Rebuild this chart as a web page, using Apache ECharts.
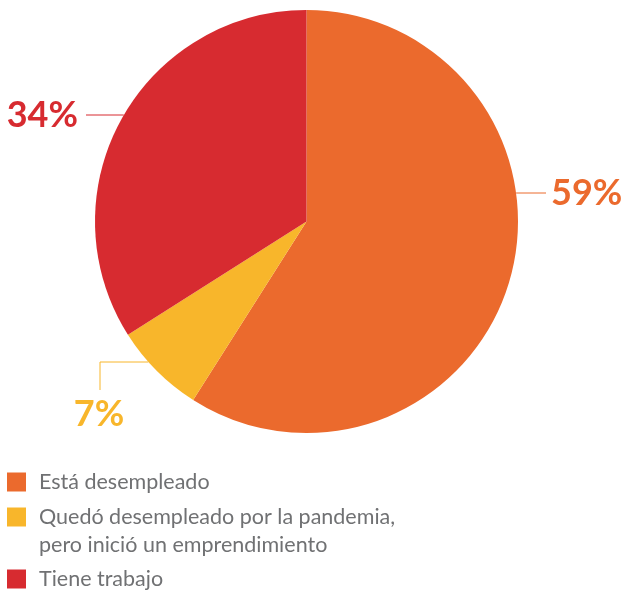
<!DOCTYPE html>
<html>
<head>
<meta charset="utf-8">
<script src="https://cdn.jsdelivr.net/npm/echarts@6/dist/echarts.min.js"></script>
<style>
    html, body { margin: 0; padding: 0; background: #fff; }
    #chart { width: 625px; height: 592px; }
</style>
</head>
<body>
<div id="chart"></div>
<script>
//数据
var categories = ['Está desempleado', 'Quedó desempleado por la pandemia, pero inició un emprendimiento', 'Tiene trabajo'];
var values = [59, 7, 34];
var colors = ['#EB6A2D', '#F8B62B', '#D72B30'];
//图例文字（第二项分两行）
var legendLines = [['Está desempleado'], ['Quedó desempleado por la pandemia,', 'pero inició un emprendimiento'], ['Tiene trabajo']];

//饼图几何
var cx = 306.5, cy = 221.5, r = 211.5;

//圆周上指定y的点
function edgeAtY(y, side) {
    var dy = y - cy;
    var dx = Math.sqrt(r * r - dy * dy);
    return [cx + side * dx, y];
}

//标签位置（引导线形状）
function getLabelLayout(params) {
    var i = params.dataIndex;
    if (i == 0) {
        var p = edgeAtY(193, 1);
        return {
            x: 551, y: 193, align: 'left', verticalAlign: 'middle',
            labelLinePoints: [p, [546, 193], [546, 193]]
        };
    }
    else if (i == 1) {
        var p = edgeAtY(362, -1);
        return {
            x: 99, y: 414, align: 'center', verticalAlign: 'middle',
            labelLinePoints: [p, [100, 362], [100, 390]]
        };
    }
    else {
        var p = edgeAtY(115, -1);
        return {
            x: 78, y: 115, align: 'right', verticalAlign: 'middle',
            labelLinePoints: [p, [86, 115], [86, 115]]
        };
    }
}

var pieData = [];
for (var i = 0; i < categories.length; i++) {
    pieData.push({
        name: categories[i],
        value: values[i],
        itemStyle: { color: colors[i] },
        label: { color: colors[i] },
        labelLine: { lineStyle: { color: colors[i] } }
    });
}

var legendText = {
    fontFamily: 'Lato',
    fontSize: 21.5,
    color: '#707173',
    lineHeight: 19,
    padding: [0, 0, 0, 8]
};

function legendFormatter(name) {
    return legendLines[categories.indexOf(name)][0];
}

var myChart = echarts.init(document.getElementById('chart'), null, { renderer: 'canvas' });

var option = {
    animation: false,
    backgroundColor: '#ffffff',
    legend: [
        {
            data: [categories[0], categories[1]],
            orient: 'vertical',
            left: 7,
            top: 471,
            padding: 0,
            itemGap: 13,
            itemWidth: 19,
            itemHeight: 19,
            icon: 'rect',
            selectedMode: false,
            formatter: legendFormatter,
            textStyle: legendText
        },
        {
            data: [categories[2]],
            orient: 'vertical',
            left: 7,
            top: 568,
            padding: 0,
            itemWidth: 19,
            itemHeight: 19,
            icon: 'rect',
            selectedMode: false,
            formatter: legendFormatter,
            textStyle: legendText
        }
    ],
    graphic: [
        {
            type: 'text',
            left: 39,
            top: 534,
            style: {
                text: legendLines[1][1],
                fontFamily: 'Lato',
                fontSize: 21.5,
                fill: '#707173'
            }
        }
    ],
    series: [
        {
            type: 'pie',
            center: [cx, cy],
            radius: [0, r],
            startAngle: 90,
            clockwise: true,
            silent: true,
            data: pieData,
            label: {
                show: true,
                position: 'outside',
                formatter: '{c}%',
                fontFamily: 'Lato',
                fontWeight: 'bold',
                fontSize: 36
            },
            labelLine: {
                show: true,
                length: 10,
                length2: 10,
                lineStyle: { width: 1 }
            },
            labelLayout: getLabelLayout
        }
    ]
};

myChart.setOption(option);
</script>
</body>
</html>
